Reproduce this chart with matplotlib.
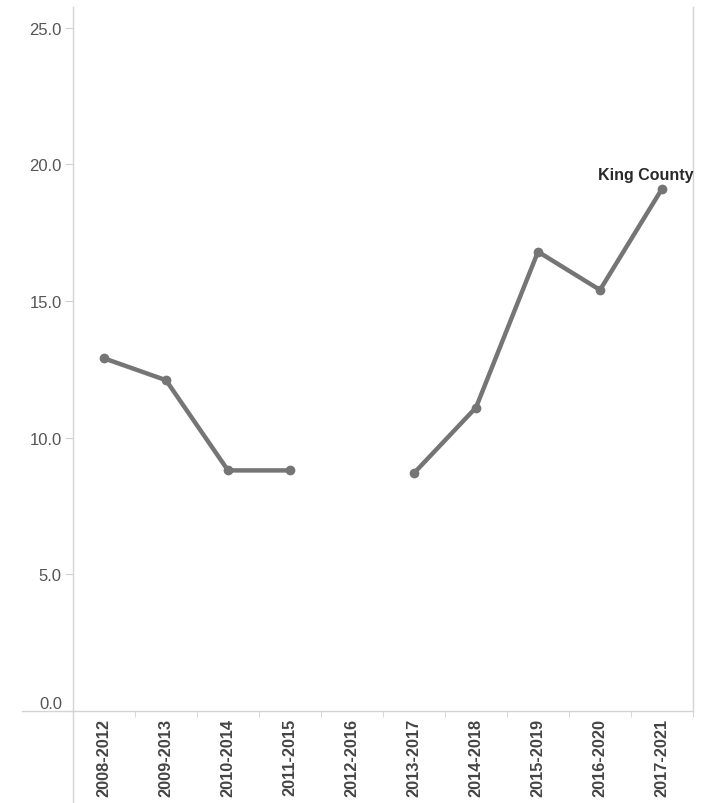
import numpy as np
import matplotlib
matplotlib.use("Agg")
from matplotlib import pyplot as plt
from matplotlib.lines import Line2D

periods = ["2008-2012", "2009-2013", "2010-2014", "2011-2015", "2012-2016",
           "2013-2017", "2014-2018", "2015-2019", "2016-2020", "2017-2021"]
values = [12.9, 12.1, 8.8, 8.8, np.nan, 8.7, 11.1, 16.8, 15.4, 19.1]
series_name = "King County"
yticks = [0, 5, 10, 15, 20, 25]

plt.rcParams["font.family"] = ["Liberation Sans", "DejaVu Sans"]

W, H = 707, 804
fig = plt.figure(figsize=(W / 100, H / 100), dpi=100)
ax = fig.add_axes([73 / W, 1 - 712 / H, (693 - 73) / W, (712 - 8) / H])

x = np.arange(len(periods))
ax.plot(x, values, color="#757575", lw=3.2, marker="o", ms=6,
        solid_capstyle="round", solid_joinstyle="round")

ax.set_xlim(-0.5, len(periods) - 0.5)
ax.set_ylim(0, 25.75)

ax.set_yticks(yticks)
ax.set_yticklabels([f"{v:.1f}" for v in yticks], fontsize=12, color="#555555")
ax.tick_params(axis="y", length=6, color="#d0d0d0", pad=2)
# Tableau nudges the bottom label up
ax.get_yticklabels()[0].set_va("bottom")

ax.set_xticks(x)
ax.set_xticklabels(periods, rotation=90, fontsize=11.8, color="#444444",
                   fontweight="bold", va="top")
ax.set_xticks(np.arange(-0.5, len(periods)), minor=True)
ax.tick_params(axis="x", which="major", length=0, pad=5)
ax.tick_params(axis="x", which="minor", length=4, color="#d0d0d0")

for s in ["left", "right", "bottom"]:
    ax.spines[s].set_color("#d4d4d4")
    ax.spines[s].set_linewidth(1)
ax.spines["top"].set_visible(False)

last = len(values) - 1
ax.annotate(series_name, (x[last], values[last]), xytext=(-12, 5),
            textcoords="offset points", ha="center", va="bottom",
            fontsize=11.5, fontweight="bold", color="#2a2a2a")

# divider lines reaching past the plot area
fig.add_artist(Line2D([22 / W, 73 / W], [1 - 712 / H] * 2, color="#d4d4d4", lw=1))
fig.add_artist(Line2D([73 / W] * 2, [0, 1 - 712 / H], color="#d4d4d4", lw=1))

fig.savefig("out.png", dpi=100)
